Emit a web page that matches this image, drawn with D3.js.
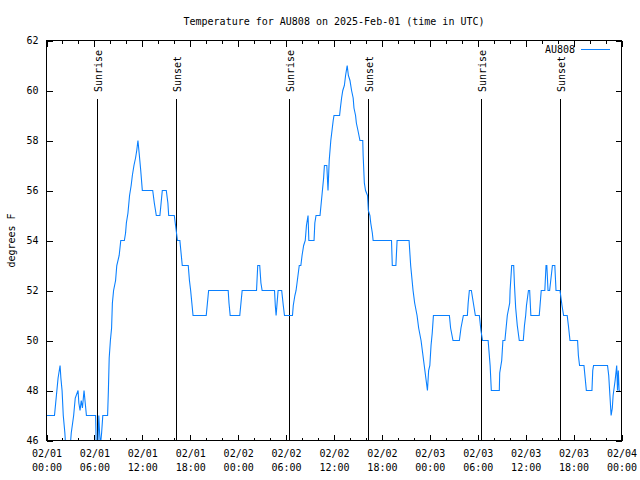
<!DOCTYPE html>
<html><head><meta charset="utf-8">
<script src="https://cdn.jsdelivr.net/npm/d3@7"></script>
<style>
html,body{margin:0;padding:0;background:#fff;}
svg{display:block;}
text{font-family:"DejaVu Sans Mono","Liberation Mono",monospace;font-size:10px;fill:#000;}
</style></head>
<body>
<svg id="chart" width="640" height="480"></svg>
<script>
// ---- data (hours since 2025-02-01 00:00 UTC, temperature in F) ----
const obsHours = [0.0,1.0,1.15,1.3,1.45,1.7,1.8,1.95,2.1,2.3,2.45,2.9,3.1,3.4,3.6,3.95,4.05,4.2,4.35,4.5,4.7,4.85,5.0,6.15,6.25,6.4,6.55,6.65,6.75,6.9,7.05,7.65,7.75,7.85,8.0,8.15,8.25,8.4,8.65,8.8,9.1,9.3,9.75,9.9,10.0,10.2,10.4,10.6,10.75,10.95,11.15,11.3,11.45,11.6,11.8,12.0,13.3,13.5,13.75,14.2,14.35,14.5,15.0,15.2,15.3,16.0,16.2,16.4,16.7,16.85,17.0,17.75,17.9,18.05,18.2,18.35,20.0,20.15,20.3,22.75,22.85,23.0,24.2,24.35,24.5,26.3,26.45,26.7,26.85,27.0,28.55,28.65,28.75,28.85,29.0,29.45,29.65,29.8,30.8,30.9,31.1,31.25,31.45,31.65,31.85,32.0,32.2,32.4,32.55,32.75,32.85,33.5,33.6,33.75,34.25,34.4,34.55,34.7,34.8,35.1,35.25,35.4,35.6,35.75,35.9,36.0,36.7,36.8,36.95,37.1,37.3,37.45,37.65,37.8,38.0,38.2,38.4,38.5,38.7,38.8,39.0,39.25,39.6,39.65,39.8,39.95,40.2,40.3,40.5,40.6,40.8,40.9,43.2,43.3,43.75,43.9,45.4,45.6,45.9,46.1,46.4,46.6,46.9,47.1,47.3,47.5,47.7,47.85,48.0,48.15,48.3,48.45,50.45,50.6,50.9,51.7,51.9,52.2,52.7,52.8,52.95,53.2,53.4,53.7,54.2,54.4,54.6,55.3,55.4,55.55,55.7,56.7,56.75,57.0,57.15,57.4,57.55,57.7,58.0,58.05,58.25,58.5,58.6,58.75,58.95,59.2,59.7,59.85,60.0,60.1,60.35,60.5,60.65,61.7,61.8,61.95,62.4,62.55,62.65,62.8,63.0,63.35,63.65,63.8,64.3,64.55,64.75,65.2,65.35,65.55,66.5,66.6,66.75,67.3,67.45,67.6,68.3,68.4,68.5,70.25,70.4,70.55,70.7,70.85,70.95,71.2,71.4,71.5,71.6,71.7,71.8];
const obsTempF = [47,47,47.5,48,48.5,49,48.5,48,47,46.3,45.5,45.5,46.3,47,47.7,48,47.5,47.2,47.6,47.3,48,47.5,47,47,45.5,45.5,47,46.3,45.8,46.3,47,47,48,49.3,50,50.5,51.5,52,52.4,53,53.4,54,54,54.3,54.7,55.1,55.8,56.2,56.6,57,57.3,57.6,58,57.5,56.8,56,56,55.5,55,55,55.5,56,56,55.5,55,55,54.5,54,54,53.5,53,53,52.4,52,51.5,51,51,51.5,52,52,51.5,51,51,51.5,52,52,53,53,52.3,52,52,51.4,51,51.4,52,52,51.4,51,51,51.4,51.8,52,52.5,53,53,53.4,53.8,54,54.6,55,54,54,54.7,55,55,55.5,56,56.5,57,57,56,57.2,58,58.4,58.8,59,59,59.3,59.7,60,60.2,60.6,61,60.6,60.4,60,59.7,59.3,59,58.7,58.4,58,58,57.4,56.3,56,55.8,55.2,55,54.7,54.3,54,54,53,53,54,54,53,52,51.5,51,50.5,50,49.5,49,48.5,48,48.8,49,49.8,50.3,51,51,50.5,50,50,50.5,51,51,51.5,52,52,51.6,51,51,50.4,50,50,49.6,49,48,48,48.7,49.2,50,50,50.5,51,51.5,52,53,53,52.2,51.3,50.6,50,50,50.6,51,51.4,52,52,51,51,51.4,52,52,53,53,52,52,53,53,52,52,51.4,51,51,50.6,50,50,49.4,49,49,48.5,48,48,48.8,49,49,48.6,47.8,47,47.3,47.8,48.4,49,48,48.8,48,48];
const seriesName = "AU808";
const sunriseTimes = ["2025-02-01T06:21Z","2025-02-02T06:22Z","2025-02-03T06:22Z"];
const sunsetTimes  = ["2025-02-01T16:14Z","2025-02-02T16:16Z","2025-02-03T16:18Z"];
const yTickValues = [46,48,50,52,54,56,58,60,62];
const xStart = "2025-02-01T00:00Z", xEnd = "2025-02-04T00:00Z";
const titleText = "Temperature for AU808 on 2025-Feb-01 (time in UTC)";
const yLabelText = "degrees F";

// ---- layout ----
const L = 46.5, R = 621.5, T = 40.5, B = 440.5;
const svg = d3.select("#chart");
const t0 = new Date(xStart);
const data = obsHours.map((h,i)=>({t:d3.utcMinute.offset(t0, Math.round(h*60)), v:obsTempF[i]}));

const x = d3.scaleUtc().domain([new Date(xStart), new Date(xEnd)]).range([L, R]);
const y = d3.scaleLinear().domain([46, 62]).range([B, T]);

svg.append("defs").append("clipPath").attr("id","clip")
  .append("rect").attr("x",L).attr("y",T).attr("width",R-L).attr("height",B-T);

// title
svg.append("text").attr("x",(L+R)/2).attr("y",25).attr("text-anchor","middle").text(titleText);
// y label
svg.append("text").attr("transform",`translate(11,${(T+B)/2}) rotate(-90)`)
  .attr("text-anchor","middle").attr("dy","0.35em").text(yLabelText);

const majorX = d3.utcHour.every(6).range(new Date(xStart), d3.utcHour.offset(new Date(xEnd),1));
const minorX = d3.utcHour.every(2).range(new Date(xStart), d3.utcHour.offset(new Date(xEnd),1));

// minor x ticks (bottom/top)
svg.append("g").attr("transform",`translate(0,${B})`)
  .call(d3.axisBottom(x).tickValues(minorX).tickSize(-3).tickSizeOuter(0).tickFormat(""))
  .call(g=>g.select(".domain").remove());
svg.append("g").attr("transform",`translate(0,${T})`)
  .call(d3.axisTop(x).tickValues(minorX).tickSize(-3).tickSizeOuter(0).tickFormat(""))
  .call(g=>g.select(".domain").remove());

// major x ticks
const fmtD = d3.utcFormat("%m/%d"), fmtT = d3.utcFormat("%H:%M");
const gx = svg.append("g").attr("transform",`translate(0,${B})`)
  .call(d3.axisBottom(x).tickValues(majorX).tickSize(-6).tickSizeOuter(0).tickPadding(0).tickFormat(""))
  .call(g=>g.select(".domain").remove());
gx.selectAll(".tick").each(function(d){
  const tx = d3.select(this).select("text").attr("y",null).attr("dy",null);
  tx.append("tspan").attr("x",0).attr("y",16).text(fmtD(d));
  tx.append("tspan").attr("x",0).attr("y",30).text(fmtT(d));
});
svg.append("g").attr("transform",`translate(0,${T})`)
  .call(d3.axisTop(x).tickValues(majorX).tickSize(-6).tickSizeOuter(0).tickFormat(""))
  .call(g=>g.select(".domain").remove());

// y ticks
svg.append("g").attr("transform",`translate(${L},0)`)
  .call(d3.axisLeft(y).tickValues(yTickValues).tickSize(-6).tickSizeOuter(0).tickPadding(8).tickFormat(d3.format("d")))
  .call(g=>g.select(".domain").remove());
svg.append("g").attr("transform",`translate(${R},0)`)
  .call(d3.axisRight(y).tickValues(yTickValues).tickSize(-6).tickSizeOuter(0).tickFormat(""))
  .call(g=>g.select(".domain").remove());

svg.selectAll(".tick line").attr("stroke","#000").attr("shape-rendering","crispEdges");
svg.selectAll(".tick text").style("font-size","10px").style("font-family",'"DejaVu Sans Mono","Liberation Mono",monospace');

// sunrise/sunset lines
const sunEvents = sunriseTimes.map(s=>({t:new Date(s), label:"Sunrise"}))
  .concat(sunsetTimes.map(s=>({t:new Date(s), label:"Sunset"})));
const sg = svg.append("g");
sg.selectAll("line").data(sunEvents).join("line")
  .attr("x1",d=>Math.round(x(d.t))+0.5).attr("x2",d=>Math.round(x(d.t))+0.5)
  .attr("y1",99).attr("y2",B).attr("stroke","#000").attr("stroke-width",1)
  .attr("shape-rendering","crispEdges");
sg.selectAll("text").data(sunEvents).join("text")
  .attr("transform",d=>`translate(${Math.round(x(d.t))+1},92) rotate(-90)`)
  .attr("dy","0.35em").attr("text-anchor","start").text(d=>d.label);

// data line
const line = d3.line().x(d=>x(d.t)).y(d=>y(d.v));
svg.append("path").datum(data).attr("clip-path","url(#clip)")
  .attr("d",line).attr("fill","none").attr("stroke","#0a80ff").attr("stroke-width",1.1)
  .attr("stroke-linejoin","miter");

// frame
svg.append("rect").attr("x",L).attr("y",T).attr("width",R-L).attr("height",B-T)
  .attr("fill","none").attr("stroke","#000").attr("shape-rendering","crispEdges");

// legend
svg.append("text").attr("x",575).attr("y",49.5).attr("dy","0.35em").attr("text-anchor","end").text(seriesName);
svg.append("line").attr("x1",581).attr("x2",610).attr("y1",49.5).attr("y2",49.5)
  .attr("stroke","#0a80ff").attr("stroke-width",1).attr("shape-rendering","crispEdges");
</script>
</body></html>
